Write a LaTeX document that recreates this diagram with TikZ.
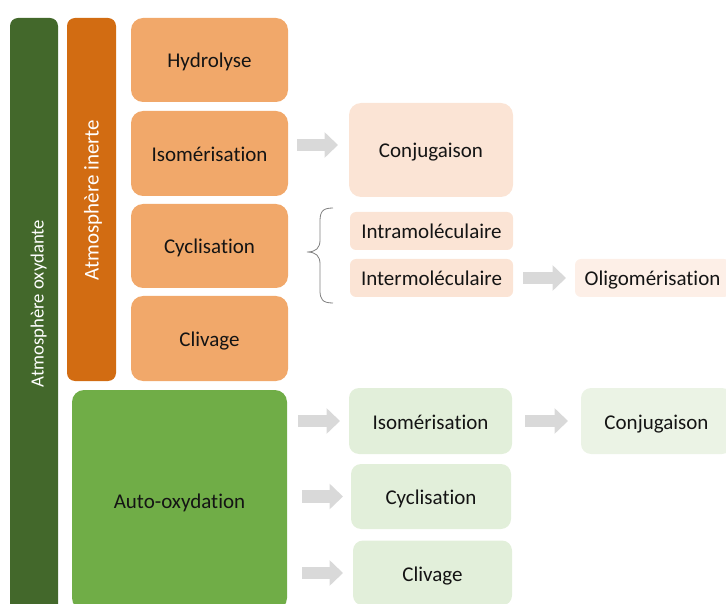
\documentclass[tikz,border=0pt]{standalone}
\usepackage{fontspec}
\setmainfont{Carlito}[Ligatures=NoCommon]
\usetikzlibrary{arrows.meta,calc}
\definecolor{dkgreen}{HTML}{43682B}
\definecolor{dkorange}{HTML}{D26C12}
\definecolor{ltorange}{HTML}{F1A86A}
\definecolor{midgreen}{HTML}{70AD47}
\definecolor{peach}{HTML}{FBE4D5}
\definecolor{peachlt}{HTML}{FDEFE7}
\definecolor{ltgreen}{HTML}{E2EFDA}
\definecolor{ltgreen2}{HTML}{EBF3E5}
\definecolor{arrgray}{HTML}{D9D9D9}
\definecolor{txt}{HTML}{141414}
\tikzset{
  base/.style={inner sep=0pt, outer sep=0pt, align=center, text=txt,
    font=\fontsize{21}{25}\selectfont, text height=20pt, text depth=4pt},
  bar/.style={inner sep=0pt, outer sep=0pt, rounded corners=8pt},
  bartext/.style={inner sep=0pt, outer sep=0pt, rotate=90, anchor=base, text=white},
  obox/.style={base, fill=ltorange, rounded corners=12pt},
  pbox/.style={base, fill=peach, rounded corners=12pt},
  psmall/.style={base, fill=peach, rounded corners=6pt},
  gbox/.style={base, fill=ltgreen, rounded corners=10pt},
  blk/.style={draw=arrgray, line width=12.5pt, -{Triangle[length=13.5pt,width=25pt]}},
  brc/.style={draw=gray, line width=0.8pt}
}
\begin{document}
\begin{tikzpicture}[x=1pt,y=-1pt]
\useasboundingbox (0,0) rectangle (726,604);
\clip (0,0) rectangle (726,604);
% bars
\node[bar, fill=dkgreen, minimum width=48pt, minimum height=602pt] (ox) at (34,319) {};
\node[bartext, font=\fontsize{18.7}{22}\selectfont] (oxt) at (43.5,303.5) {Atmosphère oxydante};
\node[bar, fill=dkorange, minimum width=49pt, minimum height=363pt] (in) at (91.5,199.5) {};
\node[bartext, font=\fontsize{21}{25}\selectfont] (int) at (98.5,200) {Atmosphère inerte};
% orange boxes
\node[obox, minimum width=157pt, minimum height=84pt] (hyd) at (209.5,60) {Hydrolyse};
\node[obox, minimum width=157pt, minimum height=85pt] (iso) at (209.5,153.5) {Isomérisation};
\node[obox, minimum width=157pt, minimum height=84pt] (cyc) at (209.5,246) {Cyclisation};
\node[obox, minimum width=157pt, minimum height=85pt] (cli) at (209.5,338.5) {Clivage};
% auto-oxydation
\node[obox, fill=midgreen, minimum width=215pt, minimum height=220pt] (auto) at (179.5,500) {Auto-oxydation};
% peach boxes
\node[pbox, minimum width=164pt, minimum height=94pt] (conj) at (431,150) {Conjugaison};
\node[psmall, minimum width=163pt, minimum height=38pt] (intra) at (431.5,231) {Intramoléculaire};
\node[psmall, minimum width=163pt, minimum height=38pt] (inter) at (431.5,278) {Intermoléculaire};
\node[psmall, fill=peachlt, minimum width=155pt, minimum height=38pt] (oligo) at (652.5,278) {Oligomérisation};
% green boxes
\node[gbox, minimum width=163pt, minimum height=66pt] (isoG) at (430.5,421) {Isomérisation};
\node[gbox, fill=ltgreen2, minimum width=151pt, minimum height=66pt] (conjG) at (656.5,421) {Conjugaison};
\node[gbox, minimum width=160pt, minimum height=65pt] (cycG) at (431,496.5) {Cyclisation};
\node[gbox, minimum width=159pt, minimum height=65pt] (cliG) at (432.5,573) {Clivage};
% arrows
\coordinate (a1) at ([yshift=5pt]conj.west);
\draw[blk] ([xshift=9pt]iso.east |- a1) -- ([xshift=-11pt]a1);
\draw[blk] ([xshift=10pt]inter.east) -- ([xshift=-9pt]oligo.west);
\draw[blk] ([xshift=11pt]auto.east |- isoG.west) -- ([xshift=-9pt]isoG.west);
\draw[blk] ([xshift=13pt]isoG.east) -- ([xshift=-13pt]conjG.west);
\draw[blk] ([xshift=15pt]auto.east |- cycG.west) -- ([xshift=-8pt]cycG.west);
\draw[blk] ([xshift=15pt]auto.east |- cliG.west) -- ([xshift=-10pt]cliG.west);
% brace
\draw[brc] (333,208) .. controls (322,208) and (320,212) .. (320,222) -- (320,240)
  .. controls (320,248) and (316,252) .. (307,252)
  .. controls (316,252) and (320,256) .. (320,264) -- (320,290)
  .. controls (320,299) and (322,303) .. (333,303);
\end{tikzpicture}
\end{document}
